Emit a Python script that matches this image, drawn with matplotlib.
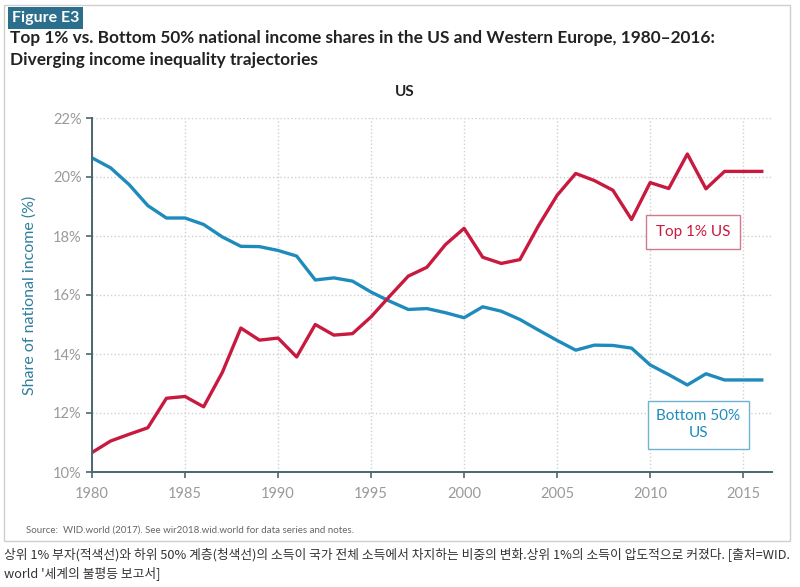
import numpy as np
import matplotlib.pyplot as plt
from matplotlib.patches import Rectangle

years = list(range(1980, 2017))
top1_us = [10.66, 11.05, 11.28, 11.50, 12.50, 12.56, 12.21, 13.37, 14.88, 14.47,
           14.54, 13.90, 15.00, 14.64, 14.69, 15.26, 15.96, 16.64, 16.94, 17.71,
           18.26, 17.28, 17.07, 17.20, 18.35, 19.38, 20.12, 19.88, 19.55, 18.56,
           19.81, 19.61, 20.78, 19.60, 20.19, 20.19, 20.19]
bottom50_us = [20.65, 20.31, 19.74, 19.03, 18.61, 18.61, 18.39, 17.97, 17.65, 17.64,
               17.51, 17.32, 16.51, 16.58, 16.47, 16.10, 15.79, 15.51, 15.54, 15.40,
               15.23, 15.60, 15.45, 15.17, 14.81, 14.46, 14.13, 14.30, 14.29, 14.20,
               13.63, 13.30, 12.95, 13.33, 13.12, 13.12, 13.12]
x_ticks = [1980, 1985, 1990, 1995, 2000, 2005, 2010, 2015]
y_ticks = [10, 12, 14, 16, 18, 20, 22]

red = '#c8193f'
blue = '#1f8bbd'
teal = '#2f7f9c'
grey = '#9a9a9a'

plt.rcParams['font.family'] = ['Lato', 'DejaVu Sans']

fig = plt.figure(figsize=(8, 5.87), dpi=100)

# outer frame of the figure panel
fig.patches.append(Rectangle((4 / 800, 1 - 541 / 587), 786 / 800, 536 / 587,
                             transform=fig.transFigure, fill=False,
                             edgecolor='#cfcfcf', linewidth=1))

fig.text(12 / 800, 1 - 18 / 587, 'Figure E3', color='white', fontsize=11.5,
         fontweight='bold', va='center', ha='left',
         bbox=dict(boxstyle='square,pad=0.22', facecolor='#2b6f8c', edgecolor='none'))
fig.text(10 / 800, 1 - 38 / 587,
         'Top 1% vs. Bottom 50% national income shares in the US and Western Europe, 1980\u20132016:',
         fontsize=12.4, fontweight='bold', color='#222222', va='center')
fig.text(10 / 800, 1 - 60 / 587, 'Diverging income inequality trajectories',
         fontsize=12.4, fontweight='bold', color='#222222', va='center')
fig.text(405 / 800, 1 - 92 / 587, 'US', fontsize=11, fontweight='bold',
         color='#222222', ha='center', va='center')

ax = fig.add_axes([92 / 800, 1 - 472 / 587, 680 / 800, 354 / 587])
ax.plot(years, bottom50_us, color=blue, linewidth=2.4, solid_joinstyle='round')
ax.plot(years, top1_us, color=red, linewidth=2.4, solid_joinstyle='round')

ax.set_xlim(1980, 2016.55)
ax.set_ylim(10, 22)
ax.set_xticks(x_ticks)
ax.set_yticks(y_ticks)
ax.set_yticklabels(['{0}%'.format(v) for v in y_ticks])
ax.tick_params(axis='both', labelsize=10.5, colors='#4a6672', labelcolor=grey,
               length=4, width=1.2)
ax.tick_params(axis='x', pad=7)
ax.grid(True, linestyle=':', color='#d0d0d0', linewidth=1)
for side in ['top', 'right']:
    ax.spines[side].set_visible(False)
for side in ['left', 'bottom']:
    ax.spines[side].set_color('#4a6672')
    ax.spines[side].set_linewidth(1.4)
ax.set_ylabel('Share of national income (%)', color=teal, fontsize=11.5, labelpad=12)

ax.text(2012.3, 18.13, 'Top 1% US', color=red, fontsize=11, ha='center', va='center',
        bbox=dict(boxstyle='square,pad=0.65', facecolor='white', edgecolor='#d27a8c', linewidth=1))
ax.text(2012.6, 11.6, 'Bottom 50%\nUS', color=blue, fontsize=11, ha='center', va='center',
        linespacing=1.25,
        bbox=dict(boxstyle='square,pad=0.55', facecolor='white', edgecolor='#6fb3cf', linewidth=1))

fig.text(26 / 800, 1 - 530 / 587,
         'Source:  WID.world (2017). See wir2018.wid.world for data series and notes.',
         fontsize=7, color='#666666', va='center')

fig.text(4 / 800, 1 - 554 / 587,
         '상위 1% 부자(적색선)와 하위 50% 계층(청색선)의 소득이 국가 전체 소득에서 차지하는 비중의 변화.상위 1%의 소득이 압도적으로 커졌다. [출처=WID.',
         fontsize=9.2, color='#333333', va='center', family=['Noto Sans CJK KR', 'DejaVu Sans'])
fig.text(4 / 800, 1 - 573 / 587, "world '세계의 불평등 보고서]",
         fontsize=9.2, color='#333333', va='center', family=['Noto Sans CJK KR', 'DejaVu Sans'])

fig.savefig('out.png', dpi=100)
